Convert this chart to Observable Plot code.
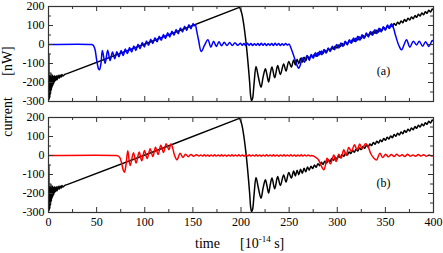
<!DOCTYPE html>
<html><head><meta charset="utf-8">
<script src="https://cdn.jsdelivr.net/npm/d3@7"></script>
<script src="https://cdn.jsdelivr.net/npm/@observablehq/plot@0.6"></script>
<style>
html,body{margin:0;padding:0;background:#fff;}
#chart{position:relative;width:443px;height:253px;overflow:hidden;background:#fff;}
#chart svg{position:absolute;left:0;overflow:visible;}
.lbl{position:absolute;font-family:"Liberation Serif","Times New Roman",serif;color:#000;white-space:pre;font-size:14px;line-height:14px;}
.rot{transform:translate(-50%,-50%) rotate(-90deg);}
</style></head><body>
<div id="chart"></div>
<script>
// ---- ticks ----
const xTicks = [0,25,50,75,100,125,150,175,200,225,250,275,300,325,350,375,400];
const xLabels = [0,50,100,150,200,250,300,350,400];
const yTicks = [-300,-250,-200,-150,-100,-50,0,50,100,150,200];
const yLabels = [-300,-200,-100,0,100,200];
const panelTags = ["(a)","(b)"];

// ---- black current (same in both panels) [time, current] ----
const blackCurve = [[0,-250],[0.3,-50],[0.6,-290],[1,-160],[1.4,-280],[1.8,-170],[2.2,-260],[2.6,-150],[3,-240],[3.4,-175],[3.8,-225],[4.2,-160],[4.6,-215],[5,-170],[5.5,-205],[6,-165],[6.5,-195],[7,-168],[7.5,-190],[8,-165],[9,-185],[10,-162],[11,-178],[12,-160],[13,-172],[14,-158],[15,-166],[17,-157],[20,-152],
[197,193],[198.2,196],[199.5,185],[201,160],[203,100],[205,20],[207,-80],[209,-200],[210,-270],[211,-295],[212,-285],[213.5,-210],[215.6,-116],[218,-170],[220.8,-225],[223,-170],[225.3,-128],[227,-160],[228.7,-198],[230.5,-150],[232.2,-119],[235,-175],[238.1,-111],[240.9,-158],[244.3,-102],[246.8,-140],[249.6,-89],[252.3,-119],[254.7,-81],
[256.5,-108],[258.3,-78],[260.1,-101],[261.9,-72],[263.7,-94],[265.5,-67],[267.3,-86],[269.1,-61],[270.9,-77],[272.7,-56],[274.5,-69],[276.3,-50],[278.1,-62],[279.9,-43],[281.7,-54],[283.5,-36],[285.3,-47],[287.1,-30],[288.9,-39],[290.7,-23],[292.5,-32],[294.3,-16],[296.1,-25],[297.9,-9],[299.7,-18],[301.5,-2],[303.3,-11],[305.1,5],[306.9,-4],[308.7,12],[310.5,3],[312.3,19],[314.1,10],[315.9,26],[317.7,17],[319.5,33],[321.3,24],[323.1,40],[324.9,31],[326.7,47],[328.5,38],[330.3,54],[332.1,45],[333.9,61],[335.7,52],[337.5,68],[339.3,59],[341.1,75],[342.9,66],[344.7,82],[346.5,73],[348.3,89],[350.1,80],[351.9,96],[353.7,87],[355.5,103],[357.3,94],[359.1,110],[360.9,101],[362.7,117],[364.5,108],[366.3,124],[368.1,115],[369.9,131],[371.7,122],[373.5,138],[375.3,129],[377.1,145],[378.9,136],[380.7,152],[382.5,143],[384.3,159],[386.1,150],[387.9,166],[389.7,157],[391.5,173],[393.3,164],[395.1,180],[396.9,171],[398.7,187],[400,180]];

// ---- blue current, panel (a) ----
const blueCurve = [[0,0],[44,0],[46,-2],[48,-20],[50,-80],[52,-128],[53,-133],[54.5,-100],[56,-32],[58.8,-100],[61.5,-30],[64,-85],[66.5,-40],[68.8,-75],[71,-38],[73.2,-65],[75.4,-32],[77.6,-58],[79.8,-24],[82,-48],[84.2,-16],[86.4,-40],[88.6,-8],[90.8,-31],[93,1],[95.2,-22],[97.4,10],[99.6,-13],[101.8,18],[104,-4],[106.2,27],[108.4,5],[110.6,36],[112.8,14],[115,44],[117.2,22],[119.4,53],[121.6,31],[123.8,62],[126,40],[128.2,70],[130.4,49],[132.6,79],[134.8,57],[137,87],[139.2,66],[141.4,96],[143.6,74],[145.8,104],[148,83],[150.2,110],[151.2,98],[152.5,104],[154,70],[156,21],[158.7,-37],[162,-5],[165.6,25],[168.7,-14],[171.5,17],[174.3,-10],[177.1,14],[179.9,-7],[182.6,12],[185.4,-5],[188.2,10],[191,-5],[193.7,9],[196.5,-4],
[199.5,6],[201.3,-4],[203.1,5],[204.9,-5],[206.7,6],[208.5,-4],[210.3,5],[212.1,-5],[213.9,4],[215.7,-4],[217.5,5],[219.3,-5],[221.1,6],[222.9,-4],[224.7,5],[226.5,-5],[228.3,4],[230.1,-4],[231.9,5],[233.7,-5],[235.5,6],[237.3,-4],[239.1,5],[240.9,-5],[242.7,4],[244.5,-4],[246.3,5],[248.1,-3],[250,2],
[252,-20],[254.7,-58],[258.2,-110],[260,-125],[261.8,-105],[263.4,-70],[265.8,-93],[268.6,-58],[271,-84],[273,-52],[275.2,-72],[277.4,-43],[279.6,-62],[281.8,-35],[284,-54],[286.2,-26],[288.4,-46],[290.6,-18],[292.8,-37],[295,-9],[297.2,-28],[299.4,0],[301.6,-19],[303.8,8],[306,-11],[308.2,17],[310.4,-2],[312.6,25],[314.8,6],[317,34],[319.2,15],[321.4,43],[323.6,23],[325.8,51],[328,32],[330.2,60],[332.4,40],[334.6,68],[336.8,49],[339,77],[341.2,57],[343.4,86],[345.6,66],[347.8,94],[350,75],[352.2,103],[354.4,84],[356.4,109],[358.5,85],[360.6,47],[364,-5],[366.8,-28],[369.5,0],[372,25],[375.5,-14],[379,17],[382.4,-2],[385.2,17],[388.7,-9],[391.8,14],[395.2,-10],[398.7,21],[400,15]];

// ---- red current, panel (b) ----
const redCurve = [[0,0],[70,0],[72,-2],[74,-10],[76,-40],[77.5,-75],[78.9,-88],[80.5,-50],[82.4,25],[84.8,-53],[88.3,15],[91,-40],[94.2,18],[96.9,-28],[99.7,26],[102.5,-16],[105.6,36],[108.4,-6],[111.2,44],[113.9,5],[116.7,54],[119.5,16],[122.3,62],[125.1,30],[127.2,62],[129,40],[131,0],[133.4,-23],[136.8,12],[139.6,-10],[142.4,7],[145.2,-6],[148,5],[150.8,-4],[153.6,4],[156.4,-3],
[158.2,3],[160,-3],[161.8,4],[163.6,-3],[165.4,3],[167.2,-4],[169,3],[170.8,-3],[172.6,4],[174.4,-3],[176.2,3],[178,-3],[179.8,4],[181.6,-3],[183.4,3],[185.2,-4],[187,3],[188.8,-3],[190.6,4],[192.4,-3],[194.2,3],[196,-3],[197.8,4],[199.6,-3],[201.4,3],[203.2,-4],[205,3],[206.8,-3],[208.6,4],[210.4,-3],[212.2,3],[214,-3],[215.8,4],[217.6,-3],[219.4,3],[221.2,-4],[223,3],[224.8,-3],[226.6,4],[228.4,-3],[230.2,3],[232,-3],[233.8,4],[235.6,-3],[237.4,3],[239.2,-4],[241,3],[242.8,-3],[244.6,4],[246.4,-3],[248.2,3],[250,-3],[251.8,4],[253.6,-3],[255.4,3],[257.2,-4],[259,3],[260.8,-3],[262.6,4],[264.4,-3],[266.2,3],[268,-3],[269.8,3],[271.6,-2],[273.5,0],
[275.5,-3],[277.3,-8],[279,-15],[280.8,-25],[283,-50],[286,-75],[287.8,-50],[289.5,-14],[292.9,-44],[296.4,3],[298.8,-32],[301.6,7],[304,-14],[306.8,30],[309.2,0],[312,42],[314.7,21],[317.9,56],[320.6,30],[323.4,60],[325.8,35],[329.4,62],[331.8,51],[334.6,12],[338.1,-14],[340.8,-23],[344.3,12],[347.2,-10],[350.3,7],[353.1,-7],[356.2,5],[359,-5],[361.8,6],[364.6,-4],[367.4,4],[370.2,-5],[373,6],[375.8,-4],[378.6,3],[381.4,-4],[384.2,5],[387,-3],[389.8,4],[392.6,-4],[395.4,3],[398.2,-3],[400,0]];

const FONT = '"Liberation Serif","Times New Roman",serif';
const INNER_H = 95, ML = 48, MR = 10, W = 443, INNER_W = W - ML - MR;
const FRAME = "#333";

function panel({curve, color, tag, showX, mt, mb, tagDy}) {
  const isMajX = d => d % 50 === 0, isMajY = d => d % 100 === 0;
  const txt = {fontSize: 12, fontFamily: FONT, fill: "#000"};
  const marks = [
    Plot.line(blackCurve, {x: d => d[0], y: d => d[1], stroke: "#000", strokeWidth: 1.5, curve: "catmull-rom", clip: true}),
    Plot.line(curve, {x: d => d[0], y: d => d[1], stroke: color, strokeWidth: 1.5, curve: "catmull-rom", clip: true}),
    Plot.tickX(xTicks.filter(isMajX), {x: d => d, insetBottom: INNER_H - 5, stroke: FRAME}),
    Plot.tickX(xTicks.filter(isMajX), {x: d => d, insetTop: INNER_H - 5, stroke: FRAME}),
    Plot.tickX(xTicks.filter(d => !isMajX(d)), {x: d => d, insetBottom: INNER_H - 3, stroke: FRAME}),
    Plot.tickX(xTicks.filter(d => !isMajX(d)), {x: d => d, insetTop: INNER_H - 3, stroke: FRAME}),
    Plot.tickY(yTicks.filter(isMajY), {y: d => d, insetRight: INNER_W - 5, stroke: FRAME}),
    Plot.tickY(yTicks.filter(isMajY), {y: d => d, insetLeft: INNER_W - 5, stroke: FRAME}),
    Plot.tickY(yTicks.filter(d => !isMajY(d)), {y: d => d, insetRight: INNER_W - 3, stroke: FRAME}),
    Plot.tickY(yTicks.filter(d => !isMajY(d)), {y: d => d, insetLeft: INNER_W - 3, stroke: FRAME}),
    Plot.frame({stroke: FRAME, strokeWidth: 1.2}),
    Plot.axisY({ticks: yLabels, tickSize: 0, tickPadding: 4, tickFormat: d => String(d), label: null, ...txt}),
    Plot.text([tag], {text: d => d, frameAnchor: "right", dx: -50, dy: tagDy, textAnchor: "middle", ...txt})
  ];
  if (showX) marks.push(Plot.axisX({ticks: xLabels, tickSize: 0, tickPadding: 5, tickFormat: d => String(d), label: null, ...txt}));
  return Plot.plot({
    width: W, height: mt + INNER_H + mb,
    marginLeft: ML, marginRight: MR, marginTop: mt, marginBottom: mb,
    style: {fontFamily: FONT, fontSize: "12px", background: "transparent", color: "#000", overflow: "visible"},
    x: {domain: [0, 400], axis: null},
    y: {domain: [-300, 200], axis: null},
    marks
  });
}

const chartEl = document.getElementById("chart");
const topPanel = panel({curve: blueCurve, color: "#0000ff", tag: panelTags[0], showX: false, mt: 6, mb: 8, tagDy: 17});
topPanel.style.top = "0px";
chartEl.appendChild(topPanel);
const botPanel = panel({curve: redCurve, color: "#ff0000", tag: panelTags[1], showX: true, mt: 7, mb: 24, tagDy: 18});
botPanel.style.top = "110px";
chartEl.appendChild(botPanel);

function addLabel(html, css, cls) {
  const d = document.createElement("div");
  d.className = "lbl" + (cls ? " " + cls : "");
  d.innerHTML = html;
  Object.assign(d.style, css);
  chartEl.appendChild(d);
}
addLabel("current", {left: "8px", top: "117px"}, "rot");
addLabel("[nW]", {left: "8px", top: "61px"}, "rot");
addLabel("time", {left: "195px", top: "237px"});
addLabel('[10<span style="font-size:9px;position:relative;top:-6px">-14</span> s]', {left: "240px", top: "237px"});
</script>
</body></html>
